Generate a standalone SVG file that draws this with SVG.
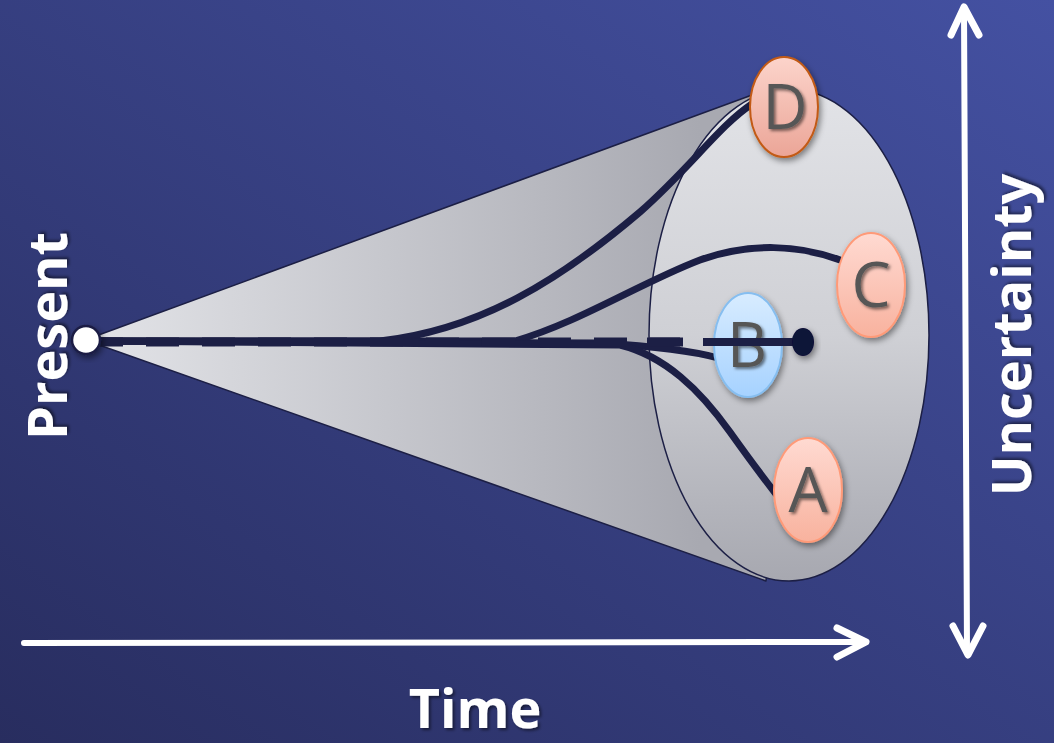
<svg xmlns="http://www.w3.org/2000/svg" width="1054" height="743" viewBox="0 0 1054 743">
<defs>
<linearGradient id="bg" x1="1" y1="0" x2="0" y2="1">
<stop offset="0" stop-color="#4451A2"/>
<stop offset="1" stop-color="#282D5F"/>
</linearGradient>
<linearGradient id="cone" x1="85" y1="0" x2="700" y2="0" gradientUnits="userSpaceOnUse">
<stop offset="0" stop-color="#E3E4E8"/>
<stop offset="1" stop-color="#A8A9B1"/>
</linearGradient>
<linearGradient id="base" x1="0" y1="0" x2="0" y2="1">
<stop offset="0" stop-color="#E2E3E7"/>
<stop offset="0.5" stop-color="#CFD0D5"/>
<stop offset="1" stop-color="#A7A8B0"/>
</linearGradient>
<linearGradient id="red" x1="0" y1="0" x2="0" y2="1">
<stop offset="0" stop-color="#FFDAD2"/>
<stop offset="1" stop-color="#F8B29E"/>
</linearGradient>
<linearGradient id="redD" x1="0" y1="0" x2="0" y2="1">
<stop offset="0" stop-color="#FCD4CB"/>
<stop offset="1" stop-color="#EBA597"/>
</linearGradient>
<linearGradient id="blue" x1="0" y1="0" x2="0" y2="1">
<stop offset="0" stop-color="#D8ECFF"/>
<stop offset="1" stop-color="#A6D2FF"/>
</linearGradient>
<filter id="sh" x="-30%" y="-30%" width="160%" height="160%">
<feDropShadow dx="2" dy="3" stdDeviation="3" flood-color="#000" flood-opacity="0.45"/>
</filter>
<filter id="tsh" x="-20%" y="-20%" width="140%" height="140%">
<feDropShadow dx="2" dy="2" stdDeviation="1.5" flood-color="#000" flood-opacity="0.5"/>
</filter>
<filter id="blur" x="-10%" y="-300%" width="120%" height="700%">
<feGaussianBlur stdDeviation="3"/>
</filter>
</defs>
<style>
.path{fill:none;stroke:#1C1F45;stroke-width:7;stroke-linecap:round}
.node{stroke-width:2}
.lbl{font-family:"Open Sans","Liberation Sans",sans-serif;font-size:62px;fill:#575757;text-anchor:middle}
.big{font-family:"Open Sans","Liberation Sans",sans-serif;font-weight:bold;fill:#FFFFFF;text-anchor:middle}
.arr{fill:none;stroke:#FFFFFF;stroke-linecap:round;stroke-linejoin:round}
.dash{stroke:#1C1F45;stroke-width:9;stroke-dasharray:33 23}
</style>
<rect x="0" y="0" width="1054" height="743" fill="url(#bg)"/>

<g id="cone-shape">
<polygon points="85,340 752,95 790,335 766,581" fill="url(#cone)" stroke="#1C1F45" stroke-width="1.5" stroke-linejoin="round"/>
<ellipse cx="789" cy="335" rx="140" ry="246" fill="url(#base)" stroke="#1C1F45" stroke-width="1.5"/>
</g>

<g id="connectors">
<line class="dash" x1="92" y1="350" x2="700" y2="350" opacity="0.75" filter="url(#blur)"/>
<path class="path" d="M 90 341 L 380 341 C 480 330 560 280 640 212 C 690 168 720 125 752 104"/>
<path class="path" d="M 90 341 L 515 341 C 580 322 640 283 700 260 C 750 242 800 245 840 260"/>
<path class="path" d="M 90 341 L 600 343 C 650 346 690 350 718 358"/>
<path class="path" d="M 90 341 L 620 345 C 665 356 700 390 730 432 C 750 460 765 480 776 494"/>
<line class="dash" x1="90" y1="342" x2="700" y2="342"/>
</g>

<g id="node-present">
<circle cx="86" cy="340" r="14" fill="#FFFFFF" stroke="#1C1F45" stroke-width="2.5" filter="url(#sh)"/>
</g>

<g id="node-D">
<ellipse class="node" cx="784" cy="107" rx="34" ry="50" fill="url(#redD)" stroke="#C25A14" filter="url(#sh)"/>
<text class="lbl" x="785" y="129" filter="url(#tsh)">D</text>
</g>
<g id="node-C">
<ellipse class="node" cx="871" cy="285" rx="34" ry="52" fill="url(#red)" stroke="#FF9A78" filter="url(#sh)"/>
<text class="lbl" x="871" y="307" filter="url(#tsh)">C</text>
</g>
<g id="node-B">
<ellipse class="node" cx="748" cy="345" rx="34" ry="52" fill="url(#blue)" stroke="#86BEF0" filter="url(#sh)"/>
<text class="lbl" x="747" y="367" filter="url(#tsh)">B</text>
</g>
<g id="end-point">
<line x1="647" y1="342" x2="680" y2="342" stroke="#1C1F45" stroke-width="9"/>
<line x1="703" y1="342" x2="800" y2="342" stroke="#1C1F45" stroke-width="8"/>
<ellipse cx="803" cy="342" rx="11" ry="14" fill="#0D1238" filter="url(#sh)"/>
</g>
<g id="node-A">
<ellipse class="node" cx="808" cy="490" rx="34" ry="52" fill="url(#red)" stroke="#FF9A78" filter="url(#sh)"/>
<text class="lbl" x="808" y="512" filter="url(#tsh)">A</text>
</g>

<g id="axes">
<line class="arr" x1="24" y1="643" x2="862" y2="642" stroke-width="6"/>
<polyline class="arr" points="837,628 866,642 837,657" stroke-width="7"/>
<line class="arr" x1="964" y1="10" x2="967" y2="652" stroke-width="6"/>
<polyline class="arr" points="951,35 964,7 979,35" stroke-width="7"/>
<polyline class="arr" points="953,626 968,655 983,626" stroke-width="7"/>
</g>

<g id="labels">
<text class="big" font-size="54" transform="translate(67,336) rotate(-90)" filter="url(#tsh)">Present</text>
<text class="big" font-size="54" x="475" y="728" filter="url(#tsh)">Time</text>
<text class="big" font-size="54" transform="translate(1031,335) rotate(-90)" filter="url(#tsh)">Uncertainty</text>
</g>
</svg>
